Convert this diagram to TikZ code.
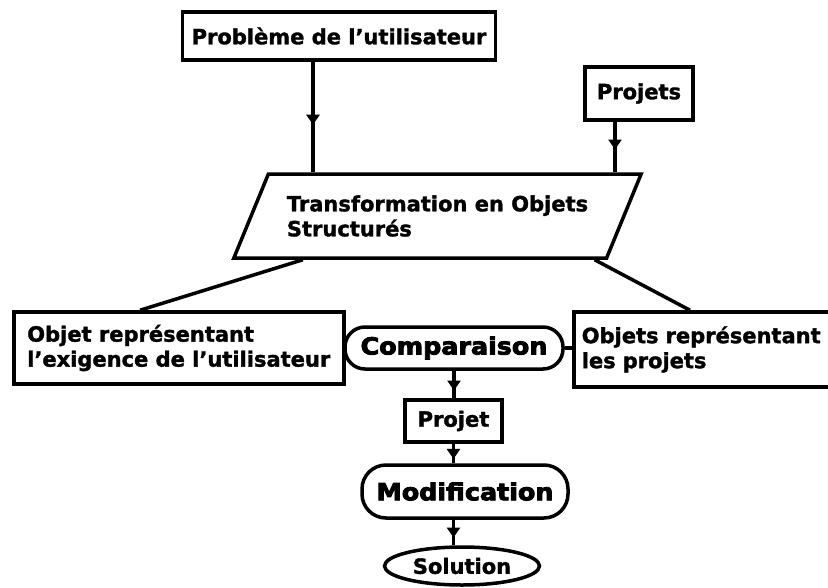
\documentclass[tikz,border=0pt]{standalone}
\usepackage{fontspec}
\usepackage{graphicx}
\setmainfont{DejaVu Sans}[BoldFeatures={FakeBold=1.5}]
\newfontfamily\heavyfont{DejaVu Sans Bold}[FakeBold=3.5]
\usetikzlibrary{shapes.geometric,arrows.meta,decorations.markings,calc}

% wide heavy lettering for the rounded boxes
\newcommand{\widetext}[1]{\scalebox{1.08}[1]{#1}}

\tikzset{
  base/.style={draw, line width=3.5pt, font=\fontsize{21}{25}\selectfont\bfseries, inner sep=6pt},
  box/.style={base, rectangle},
  pill/.style={base, rectangle, rounded corners=20pt, font=\fontsize{23.5}{27}\selectfont\heavyfont},
  link/.style={line width=3.5pt},
  flow/.style={link, postaction=decorate,
    decoration={markings, mark=at position #1 with {\arrow{Triangle[length=10pt,width=13pt]}}}},
  flow/.default=0.6
}

\begin{document}
\begin{tikzpicture}[x=1pt,y=-1pt]
\useasboundingbox (0,0) rectangle (828,587);
\clip (0,0) rectangle (828,587);

% Inputs
\node[box, minimum width=313pt, minimum height=48pt] (probleme) at (339,36) {Problème de l'utilisateur};
\node[box, minimum width=108pt, minimum height=53pt] (projets) at (639,93.5) {Projets};

% Transformation step
\node[base, trapezium, trapezium left angle=59, trapezium right angle=121, trapezium stretches=true,
      minimum width=409pt, minimum height=84pt, align=left] (transfo) at (437.5,216) {Transformation en Objets\\Structurés};

% Structured objects
\node[box, anchor=west, minimum width=330pt, minimum height=72pt, align=left] (exigence) at (12,348)
  {Objet représentant\\l'exigence de l'utilisateur};
\node[box, anchor=west, minimum height=75pt, inner xsep=8pt, text width=270pt, align=left] (objprojets) at (572,349.5)
  {Objets représentant\\les projets};

% Comparison chain
\node[pill, minimum width=218pt, minimum height=42pt] (comparaison) at (454,348) {\widetext{Comparaison}};
\node[box, minimum width=97pt, minimum height=42pt] (projet) at (453.5,421) {Projet};
\node[pill, rounded corners=24pt, minimum width=206pt, minimum height=53pt] (modif) at (465,491.5) {\widetext{Modification}};
\node[base, ellipse, minimum width=155pt, minimum height=38pt, inner sep=0pt] (solution) at (462,566) {Solution};

% Arrows into the transformation
\coordinate (probfoot) at ([xshift=-26pt]probleme.south);
\coordinate (projfoot) at ([xshift=-24pt]projets.south);
\draw[flow=0.57] (probfoot) -- (probfoot |- transfo.north);
\draw[flow=0.55] (projfoot) -- (projfoot |- transfo.north);

% Split into the two objects
\coordinate (splitl) at ($(transfo.bottom left corner)!0.19!(transfo.bottom right corner)$);
\coordinate (splitr) at ($(transfo.bottom left corner)!0.965!(transfo.bottom right corner)$);
\draw[link] (splitl) -- ([xshift=128pt]exigence.north west);
\draw[link] (splitr) -- ([xshift=118pt]objprojets.north west);

% Both objects meet in the comparison
\draw[link] (exigence.east) -- (comparaison.west);
\draw[link] (comparaison.east) -- (comparaison.east -| objprojets.west);

% Down to the solution
\draw[flow=0.72] (comparaison.south) -- (comparaison.south |- projet.north);
\draw[flow=0.78] (projet.south) -- (projet.south |- modif.north);
\draw[flow=0.7] (projet.south |- modif.south) -- (projet.south |- solution.north);

\end{tikzpicture}
\end{document}
